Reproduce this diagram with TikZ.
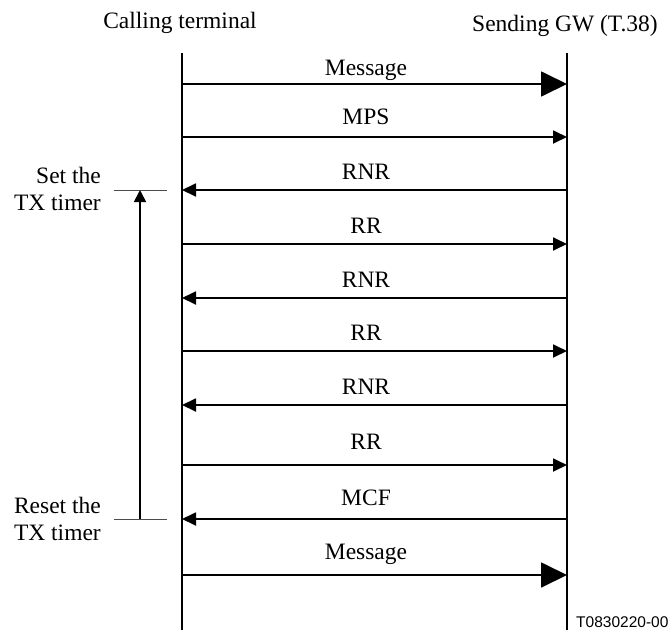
\documentclass[tikz,border=0pt]{standalone}
\usepackage{fontspec}
\setmainfont{Liberation Serif}
\setsansfont{Liberation Sans}
\usetikzlibrary{arrows.meta}
\begin{document}
\begin{tikzpicture}[x=1pt,y=-1pt,
  lbl/.style={font=\fontsize{23.5}{27}\selectfont, inner sep=0pt, anchor=base},
  life/.style={line width=1.8pt},
  msg/.style={line width=1.8pt,-{Triangle[length=14pt,width=13pt]}},
  bigmsg/.style={line width=1.8pt,-{Triangle[length=26pt,width=25pt]}},
  tick/.style={line width=0.9pt, black!70},
  note/.style={font=\fontsize{23.5}{27}\selectfont, inner sep=0pt, anchor=base east}]
\useasboundingbox (0,0) rectangle (672,640);
% headers
\node[lbl] (ht) at (180,28) {Calling terminal};
\node[lbl] (hg) at (565,31) {Sending GW (T.38)};
% lifelines
\coordinate (Lt) at (182,53); \coordinate (Lb) at (182,630);
\coordinate (Rt) at (567,53); \coordinate (Rb) at (567,630);
\draw[life] (Lt) -- (Lb);
\draw[life] (Rt) -- (Rb);
% message rows
\foreach \n/\y in {m1/84,m2/137,m3/190,m4/244,m5/298,m6/351,m7/405,m8/465,m9/519,m10/575}{
  \coordinate (L\n) at (182,\y);
  \coordinate (R\n) at (567,\y);
}
\draw[bigmsg] (Lm1) -- (Rm1);
\node[lbl] (t1) at (366,75) {Message};
\draw[msg] (Lm2) -- (Rm2);
\node[lbl] (t2) at (366,124) {MPS};
\draw[msg] (Rm3) -- (Lm3);
\node[lbl] (t3) at (366,179) {RNR};
\draw[msg] (Lm4) -- (Rm4);
\node[lbl] (t4) at (366,233) {RR};
\draw[msg] (Rm5) -- (Lm5);
\node[lbl] (t5) at (366,287) {RNR};
\draw[msg] (Lm6) -- (Rm6);
\node[lbl] (t6) at (366,340) {RR};
\draw[msg] (Rm7) -- (Lm7);
\node[lbl] (t7) at (366,394) {RNR};
\draw[msg] (Lm8) -- (Rm8);
\node[lbl] (t8) at (366,449) {RR};
\draw[msg] (Rm9) -- (Lm9);
\node[lbl] (t9) at (366,505) {MCF};
\draw[bigmsg] (Lm10) -- (Rm10);
\node[lbl] (t10) at (366,559) {Message};
% timer
\coordinate (T1a) at (114,190); \coordinate (T1b) at (167,190);
\coordinate (T2a) at (114,519); \coordinate (T2b) at (167,519);
\coordinate (Tt) at (140,190); \coordinate (Tb) at (140,519);
\draw[tick] (T1a) -- (T1b);
\draw[tick] (T2a) -- (T2b);
\draw[line width=1.8pt,-{Triangle[length=12pt,width=12pt]}] (Tb) -- (Tt);
\node[note] (n1a) at (101,183) {Set the};
\node[note] (n1b) at (101,210) {TX timer};
\node[note] (n2a) at (101,513) {Reset the};
\node[note] (n2b) at (101,540) {TX timer};
% figure id
\node[font=\sffamily\fontsize{15.5}{18}\selectfont, anchor=base west, inner sep=0pt] (fid) at (576,627) {T0830220-00};
\end{tikzpicture}
\end{document}
